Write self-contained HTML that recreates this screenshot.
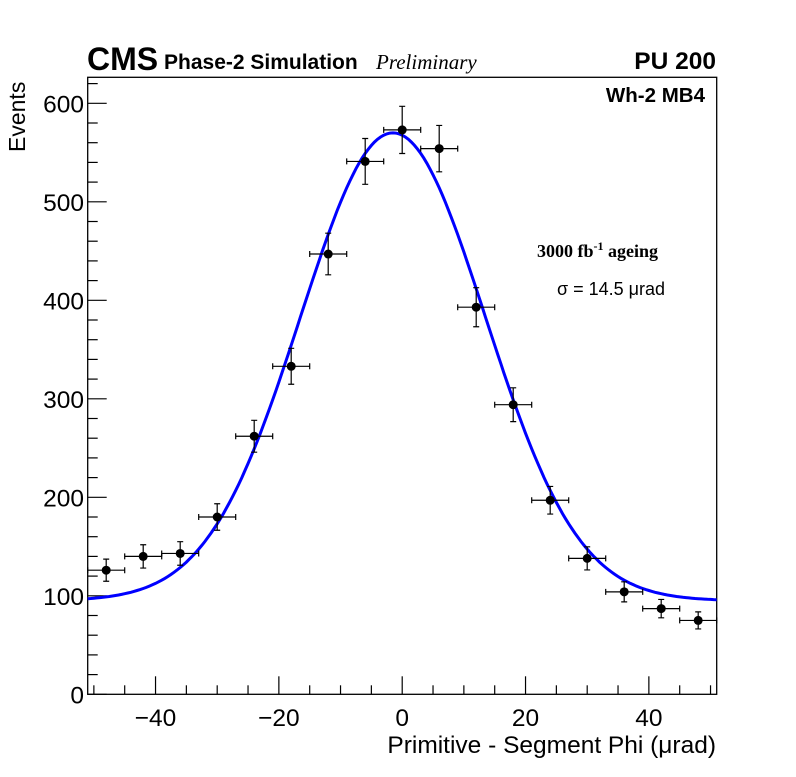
<!DOCTYPE html>
<html><head><meta charset="utf-8"><style>
body{margin:0;background:#fff;width:796px;height:772px;overflow:hidden}
svg text{font-family:"Liberation Sans",sans-serif}
</style></head><body>
<svg id="c" width="796" height="772" xmlns="http://www.w3.org/2000/svg">
<text x="87" y="70" font-size="32" font-weight="bold">CMS</text>
<text x="164" y="69" font-size="21" font-weight="bold">Phase-2 Simulation</text>
<text x="376" y="69" font-size="21" font-style="italic" style="font-family:'Liberation Serif',serif">Preliminary</text>
<text x="716" y="69" font-size="24.5" font-weight="bold" text-anchor="end">PU 200</text>
<text x="705" y="102" font-size="20.5" font-weight="bold" text-anchor="end">Wh-2 MB4</text>
<text x="537" y="257" font-size="18" font-weight="bold" style="font-family:'Liberation Serif',serif">3000 fb<tspan dy="-7" font-size="12">-1</tspan><tspan dy="7"> ageing</tspan></text>
<text x="557" y="295" font-size="18">σ = 14.5 μrad</text>
<text x="716" y="753" font-size="24.5" text-anchor="end">Primitive - Segment Phi (μrad)</text>
<text transform="translate(25,152) rotate(-90)" font-size="23">Events</text>
<g id="g"></g>
</svg>
<script>
const centers=[-48,-42,-36,-30,-24,-18,-12,-6,0,6,12,18,24,30,36,42,48];
const counts=[126,140,143,180,262,333,447,541,573,554,393,294,197,138,104,87,75];
const xTicks=[-40,-20,0,20,40];
const yTicks=[0,100,200,300,400,500,600];
const fitConst=95, fitAmp=475, fitMean=-1.5, fitSigma=15;
const binW=6;
const L=87.7,R=716.7,T=77.3,B=694.3,xmin=-51,xmax=51,ymax=626.4;
const X=v=>L+(v-xmin)/(xmax-xmin)*(R-L);
const Y=v=>B-v/ymax*(B-T);
const NS='http://www.w3.org/2000/svg',g=document.getElementById('g');
function mk(t,a){const e=document.createElementNS(NS,t);for(const k in a)e.setAttribute(k,a[k]);g.appendChild(e);return e;}
let e=mk('rect',{x:L,y:T,width:R-L,height:B-T,fill:'none',stroke:'#000','stroke-width':1.3});


for(let v=-50;v<=50;v+=5){const maj=v%20===0;e=mk('line',{x1:X(v),x2:X(v),y1:B,y2:B-(maj?18:9),stroke:'#000','stroke-width':1.2});

}
for(let v=0;v<=620;v+=20){const maj=v%100===0;e=mk('line',{x1:L,x2:L+(maj?19:10),y1:Y(v),y2:Y(v),stroke:'#000','stroke-width':1.2});

}
xTicks.forEach(v=>{e=mk('text',{x:X(v),y:726,'font-size':24.5,'text-anchor':'middle'});e.textContent=(v<0?'\u2212'+(-v):v);

});
yTicks.forEach(v=>{e=mk('text',{x:84,y:Y(v)+9,'font-size':24.5,'text-anchor':'end'});e.textContent=v;

});
let d='';for(let x=xmin;x<=xmax;x+=0.5){const y=fitConst+fitAmp*Math.exp(-Math.pow(x-fitMean,2)/(2*fitSigma*fitSigma));d+=(d?'L':'M')+X(x).toFixed(1)+','+Y(y).toFixed(1);}
e=mk('path',{d:d,fill:'none',stroke:'#0000ff','stroke-width':3});


centers.forEach((c,i)=>{const n=counts[i],er=Math.sqrt(n),cx=X(c),cy=Y(n);
const x1=Math.max(L,X(c-binW/2)),x2=Math.min(R,X(c+binW/2));
e=mk('path',{d:`M${x1},${cy}H${x2}M${cx},${Y(n+er)}V${Y(n-er)}M${x1},${cy-3}V${cy+3}M${x2},${cy-3}V${cy+3}M${cx-3},${Y(n+er)}H${cx+3}M${cx-3},${Y(n-er)}H${cx+3}`,stroke:'#000','stroke-width':1.2,fill:'none'});


e=mk('circle',{cx:cx,cy:cy,r:4.5,fill:'#000'});

});
</script>
</body></html>
